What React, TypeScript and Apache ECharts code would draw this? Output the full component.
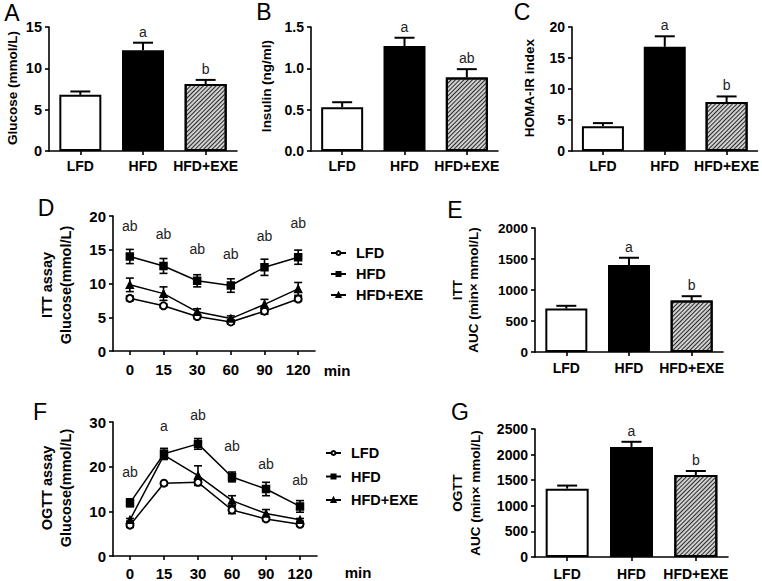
import React, { useEffect, useRef } from "react";
import * as echarts from "echarts";

const FONT = "'Liberation Sans', Arial, Helvetica, sans-serif";

// Categories
const groups = ["LFD", "HFD", "HFD+EXE"];
const timePoints = ["0", "15", "30", "60", "90", "120"];

// A: fasting glucose
const glucoseMean = [6.8, 12.2, 8.1];
const glucoseSem = [0.4, 0.9, 0.5];
const glucoseSig = ["", "a", "b"];
// B: insulin
const insulinMean = [0.53, 1.27, 0.89];
const insulinSem = [0.06, 0.1, 0.1];
const insulinSig = ["", "a", "ab"];
// C: HOMA-IR
const homaMean = [4.0, 16.8, 7.9];
const homaSem = [0.5, 1.7, 0.9];
const homaSig = ["", "a", "b"];
// D: ITT curves
const ittLfd = [7.8, 6.7, 5.1, 4.3, 5.9, 7.7];
const ittLfdSem = [0.35, 0.25, 0.3, 0.3, 0.45, 0.35];
const ittHfd = [14.0, 12.6, 10.4, 9.7, 12.4, 13.9];
const ittHfdSem = [1.05, 1.1, 0.9, 1.0, 1.2, 1.05];
const ittExe = [9.8, 8.5, 5.8, 4.8, 6.9, 9.2];
const ittExeSem = [1.0, 1.0, 0.45, 0.4, 0.75, 0.95];
const ittSig = ["ab", "ab", "ab", "ab", "ab", "ab"];
const ittSigY = [18.5, 17.4, 15.1, 14.4, 17.0, 19.0];
// E: ITT AUC
const ittAucMean = [700, 1405, 830];
const ittAucSem = [45, 115, 70];
const ittAucSig = ["", "a", "b"];
// F: OGTT curves
const ogttLfd = [6.9, 16.3, 16.5, 10.3, 8.3, 7.1];
const ogttLfdSem = [0.3, 0.3, 0.6, 0.8, 0.4, 0.3];
const ogttHfd = [11.9, 22.9, 25.1, 17.7, 15.0, 11.1];
const ogttHfdSem = [0.9, 1.2, 1.2, 1.1, 1.5, 1.3];
const ogttExe = [8.1, 22.6, 18.0, 12.4, 9.5, 8.1];
const ogttExeSem = [0.3, 1.0, 2.2, 1.1, 0.9, 0.3];
const ogttSig = ["ab", "a", "ab", "ab", "ab", "ab"];
const ogttSigY = [18.7, 29.0, 31.6, 24.6, 20.7, 17.0];
// G: OGTT AUC
const ogttAucMean = [1335, 2150, 1600];
const ogttAucSem = [60, 100, 80];
const ogttAucSig = ["", "a", "b"];

const BLACK = "#000";

const grids = [
  { left: 49, top: 27, width: 188, height: 124 },
  { left: 311, top: 27, width: 187, height: 124 },
  { left: 572, top: 27, width: 186, height: 124 },
  { left: 113, top: 216, width: 202, height: 135 },
  { left: 535, top: 228, width: 188, height: 124 },
  { left: 113, top: 422, width: 204, height: 136 },
  { left: 535, top: 429, width: 193, height: 129 },
];

function xAxisFor(idx: number, cats: string[], fontSize: number, margin: number) {
  return {
    type: "category",
    gridIndex: idx,
    data: cats,
    boundaryGap: true,
    axisLine: { show: true, lineStyle: { color: BLACK, width: 1.6 } },
    axisTick: { show: true, alignWithLabel: true, length: 4, lineStyle: { color: BLACK, width: 1.6 } },
    axisLabel: { color: BLACK, fontWeight: "bold", fontFamily: FONT, fontSize, margin, interval: 0 },
    splitLine: { show: false },
  };
}

function yAxisFor(idx: number, max: number, interval: number, fontSize: number, fmt?: (v: number) => string) {
  return {
    type: "value",
    gridIndex: idx,
    min: 0,
    max,
    interval,
    axisLine: { show: true, lineStyle: { color: BLACK, width: 1.6 } },
    axisTick: { show: true, length: 4, lineStyle: { color: BLACK, width: 1.6 } },
    axisLabel: {
      color: BLACK,
      fontWeight: "bold",
      fontFamily: FONT,
      fontSize,
      margin: 7,
      formatter: fmt ? fmt : (v: number) => String(v),
    },
    splitLine: { show: false },
  };
}

const hatch = {
  symbol: "rect",
  symbolSize: 1,
  dashArrayX: [1, 0],
  dashArrayY: [1, 2],
  rotation: -Math.PI / 4,
  color: "#2a2a2a",
};

function barSeries(idx: number, means: number[], sems: number[], sigs: string[], barWidth: number) {
  const styles = [
    { color: "#fff", borderColor: BLACK, borderWidth: 2 },
    { color: "#000", borderColor: BLACK, borderWidth: 2 },
    { color: "#d0d0d0", borderColor: BLACK, borderWidth: 2, decal: hatch },
  ];
  return [
    {
      type: "bar",
      name: "bars" + idx,
      xAxisIndex: idx,
      yAxisIndex: idx,
      barWidth,
      data: means.map((m, j) => ({ value: m, itemStyle: styles[j] })),
      z: 2,
    },
    {
      type: "custom",
      name: "err" + idx,
      xAxisIndex: idx,
      yAxisIndex: idx,
      z: 5,
      clip: false,
      data: means.map((m, j) => [j, m, m + sems[j], j]),
      renderItem: (_p: any, api: any) => {
        const j = api.value(0);
        const base = api.coord([j, api.value(1)]);
        const top = api.coord([j, api.value(2)]);
        const sig = sigs[api.value(3)];
        return {
          type: "group",
          children: [
            { type: "line", shape: { x1: base[0], y1: base[1], x2: top[0], y2: top[1] }, style: { stroke: BLACK, lineWidth: 2 } },
            { type: "line", shape: { x1: top[0] - 10, y1: top[1], x2: top[0] + 10, y2: top[1] }, style: { stroke: BLACK, lineWidth: 2 } },
            {
              type: "text",
              style: {
                text: sig,
                x: top[0],
                y: top[1] - 4,
                align: "center",
                verticalAlign: "bottom",
                fill: "#222",
                font: `14px ${FONT}`,
              },
            },
          ],
        };
      },
    },
  ];
}

function lineGroupSeries(idx: number, name: string, symbol: string, vals: number[], sems: number[]) {
  return [
    {
      type: "line",
      name,
      xAxisIndex: idx,
      yAxisIndex: idx,
      data: vals,
      symbol,
      symbolSize: 7,
      showAllSymbol: true,
      lineStyle: { color: BLACK, width: 1.5 },
      itemStyle: { color: BLACK, borderColor: BLACK, borderWidth: 1.5 },
      z: 4,
    },
    {
      type: "custom",
      name: name + "-err" + idx,
      xAxisIndex: idx,
      yAxisIndex: idx,
      z: 3,
      clip: false,
      data: vals.map((v, j) => [j, v - sems[j], v + sems[j]]),
      renderItem: (_p: any, api: any) => {
        const j = api.value(0);
        const lo = api.coord([j, api.value(1)]);
        const hi = api.coord([j, api.value(2)]);
        const s = { stroke: BLACK, lineWidth: 1.6 };
        return {
          type: "group",
          children: [
            { type: "line", shape: { x1: lo[0], y1: lo[1], x2: hi[0], y2: hi[1] }, style: s },
            { type: "line", shape: { x1: hi[0] - 4, y1: hi[1], x2: hi[0] + 4, y2: hi[1] }, style: s },
            { type: "line", shape: { x1: lo[0] - 4, y1: lo[1], x2: lo[0] + 4, y2: lo[1] }, style: s },
          ],
        };
      },
    },
  ];
}

function sigSeries(idx: number, sigs: string[], ys: number[]) {
  return {
    type: "custom",
    name: "sig" + idx,
    xAxisIndex: idx,
    yAxisIndex: idx,
    z: 6,
    clip: false,
    data: ys.map((y, j) => [j, y, j]),
    renderItem: (_p: any, api: any) => {
      const p = api.coord([api.value(0), api.value(1)]);
      return {
        type: "text",
        style: {
          text: sigs[api.value(2)],
          x: p[0],
          y: p[1],
          align: "center",
          verticalAlign: "middle",
          fill: "#222",
          font: `14px ${FONT}`,
        },
      };
    },
  };
}

function vText(text: string, x: number, y: number, size: number) {
  return {
    type: "text",
    x,
    y,
    rotation: Math.PI / 2,
    style: {
      text,
      x: 0,
      y: 0,
      align: "center",
      verticalAlign: "middle",
      fill: BLACK,
      font: `bold ${size}px ${FONT}`,
    },
  };
}

function hText(text: string, x: number, y: number, font: string) {
  return {
    type: "text",
    x,
    y,
    style: { text, x: 0, y: 0, align: "center", verticalAlign: "middle", fill: BLACK, font },
  };
}

const panelLetters = ["A", "B", "C", "D", "E", "F", "G"];

export default function App() {
  const ref = useRef<HTMLDivElement>(null);
  useEffect(() => {
    document.body.style.margin = "0";
    const chart = echarts.init(ref.current!, null, { renderer: "svg" });
    const letterPos = [
      [12, 13],
      [264, 12],
      [522, 12],
      [46, 208],
      [455, 210],
      [40, 412],
      [460, 412],
    ];
    const legendStyle = {
      orient: "vertical",
      itemWidth: 15,
      itemHeight: 5,
      textStyle: { fontSize: 14.5, fontWeight: "bold", fontFamily: FONT, color: BLACK, lineHeight: 16, padding: [0, 0, 0, 5] },
      data: groups,
    };
    const option: any = {
      animation: false,
      backgroundColor: "#fff",
      textStyle: { fontFamily: FONT },
      grid: grids,
      xAxis: [
        xAxisFor(0, groups, 14, 8),
        xAxisFor(1, groups, 14, 8),
        xAxisFor(2, groups, 14, 8),
        xAxisFor(3, timePoints, 15, 11),
        xAxisFor(4, groups, 14, 9),
        xAxisFor(5, timePoints, 15, 10),
        xAxisFor(6, groups, 14, 10),
      ],
      yAxis: [
        yAxisFor(0, 15, 5, 14.5),
        yAxisFor(1, 1.5, 0.5, 14, (v: number) => v.toFixed(1)),
        yAxisFor(2, 20, 5, 14),
        yAxisFor(3, 20, 5, 15),
        yAxisFor(4, 2000, 500, 13.5),
        yAxisFor(5, 30, 10, 15),
        yAxisFor(6, 2500, 500, 14),
      ],
      legend: [
        { ...legendStyle, left: 325, top: 240, itemGap: 5 },
        { ...legendStyle, left: 320, top: 440, itemGap: 7.5 },
      ],
      series: [
        ...barSeries(0, glucoseMean, glucoseSem, glucoseSig, 42),
        ...barSeries(1, insulinMean, insulinSem, insulinSig, 42),
        ...barSeries(2, homaMean, homaSem, homaSig, 42),
        ...lineGroupSeries(3, "LFD", "emptyCircle", ittLfd, ittLfdSem),
        ...lineGroupSeries(3, "HFD", "rect", ittHfd, ittHfdSem),
        ...lineGroupSeries(3, "HFD+EXE", "triangle", ittExe, ittExeSem),
        sigSeries(3, ittSig, ittSigY),
        ...barSeries(4, ittAucMean, ittAucSem, ittAucSig, 42),
        ...lineGroupSeries(5, "LFD", "emptyCircle", ogttLfd, ogttLfdSem),
        ...lineGroupSeries(5, "HFD", "rect", ogttHfd, ogttHfdSem),
        ...lineGroupSeries(5, "HFD+EXE", "triangle", ogttExe, ogttExeSem),
        sigSeries(5, ogttSig, ogttSigY),
        ...barSeries(6, ogttAucMean, ogttAucSem, ogttAucSig, 43),
      ],
      graphic: [
        ...panelLetters.map((l, i) => hText(l, letterPos[i][0], letterPos[i][1], `23px ${FONT}`)),
        vText("Glucose (mmol/L)", 12, 88, 13.5),
        vText("Insulin (ng/ml)", 266, 86, 13.5),
        vText("HOMA-IR index", 529, 88, 13.5),
        vText("ITT assay", 47, 285, 14.5),
        vText("Glucose(mmol/L)", 66, 285, 14.5),
        vText("ITT", 457, 290, 13.5),
        vText("AUC (min× mmol/L)", 473, 290, 13.5),
        vText("OGTT assay", 47, 488, 14.5),
        vText("Glucose(mmol/L)", 66, 488, 14.5),
        vText("OGTT", 457, 493, 13.5),
        vText("AUC (min× mmol/L)", 475, 493, 13.5),
        hText("min", 337, 370, `bold 15px ${FONT}`),
        hText("min", 358, 572, `bold 15px ${FONT}`),
      ],
    };
    chart.setOption(option);
    return () => chart.dispose();
  }, []);
  return <div ref={ref} style={{ width: 762, height: 581 }} />;
}
